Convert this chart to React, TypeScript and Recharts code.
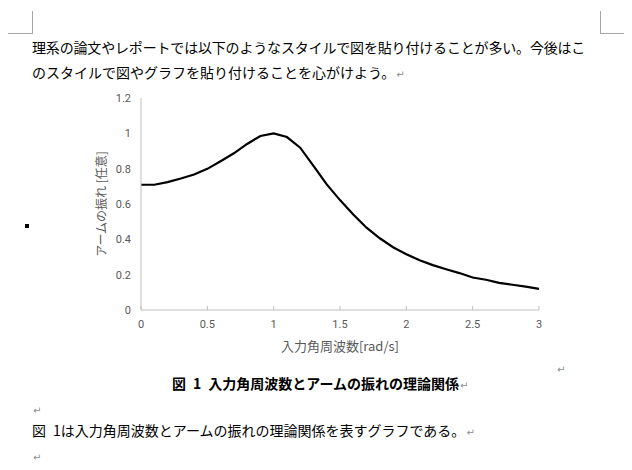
import { LineChart, Line, XAxis, YAxis } from 'recharts';

// angular frequency [rad/s]
const omega = [
  0, 0.1, 0.2, 0.3, 0.4, 0.5, 0.6, 0.7, 0.8, 0.9, 1.0,
  1.1, 1.2, 1.3, 1.4, 1.5, 1.6, 1.7, 1.8, 1.9, 2.0,
  2.1, 2.2, 2.3, 2.4, 2.5, 2.6, 2.7, 2.8, 2.9, 3.0,
];

// arm amplitude (arbitrary units)
const amplitude = [
  0.709, 0.709, 0.724, 0.744, 0.767, 0.799, 0.842, 0.887, 0.94, 0.985, 1.0,
  0.979, 0.919, 0.816, 0.711, 0.622, 0.541, 0.466, 0.406, 0.355, 0.316,
  0.282, 0.254, 0.231, 0.209, 0.184, 0.171, 0.154, 0.143, 0.132, 0.12,
];

const xTicks = [0, 0.5, 1, 1.5, 2, 2.5, 3];
const yTicks = [0, 0.2, 0.4, 0.6, 0.8, 1, 1.2];

const bodyLines = [
  '理系の論文やレポートでは以下のようなスタイルで図を貼り付けることが多い。今後はこ',
  'のスタイルで図やグラフを貼り付けることを心がけよう。',
];
const captionText = '図\u20021\u2002入力角周波数とアームの振れの理論関係';
const closingText = '図\u20021は入力角周波数とアームの振れの理論関係を表すグラフである。';
const xTitle = '入力角周波数[rad/s]';
const yTitle = 'アームの振れ [任意]';

const data = omega.map((w, i) => ({ w, amp: amplitude[i] }));

const jp = '"Noto Sans CJK JP", sans-serif';
const axisGrey = '#bfbfbf';
const labelGrey = '#595959';

// Word paragraph mark
const Mark = () => (
  <span style={{ fontSize: 10, color: '#8c8c8c', fontFamily: '"DejaVu Sans", sans-serif', fontWeight: 400, letterSpacing: 0, marginLeft: 1 }}>↵</span>
);

const textLine = (top: number, left: number, bold = false, spacing = 0) => ({
  position: 'absolute' as const,
  left,
  top,
  fontFamily: jp,
  fontSize: 14,
  lineHeight: '26px',
  letterSpacing: `${spacing}px`,
  fontWeight: bold ? 700 : 400,
  color: '#000',
  whiteSpace: 'nowrap' as const,
});

export default function App() {
  return (
    <div style={{ position: 'absolute', left: 0, top: 0, width: 632, height: 470, background: '#fff', overflow: 'hidden' }}>
      {/* page corner marks */}
      <div style={{ position: 'absolute', left: 8, top: 33, width: 24, height: 1, background: '#a6a6a6' }} />
      <div style={{ position: 'absolute', left: 32, top: 11, width: 1, height: 23, background: '#a6a6a6' }} />
      <div style={{ position: 'absolute', left: 600, top: 33, width: 24, height: 1, background: '#a6a6a6' }} />
      <div style={{ position: 'absolute', left: 600, top: 11, width: 1, height: 23, background: '#a6a6a6' }} />

      <div style={textLine(34, 32, false, -0.17)}>{bodyLines[0]}</div>
      <div style={textLine(59, 32)}>
        {bodyLines[1]}<Mark />
      </div>

      <div style={{ position: 'absolute', left: 25, top: 224, width: 4, height: 4, background: '#000' }} />

      <div style={{ position: 'absolute', left: 60, top: 88 }}>
        <LineChart width={500} height={270} data={data} margin={{ top: 10, right: 21, left: 37, bottom: 3 }}>
          <XAxis
            dataKey="w"
            type="number"
            domain={[0, 3]}
            ticks={xTicks}
            interval={0}
            tickSize={-4}
            tickMargin={14}
            height={45}
            stroke={axisGrey}
            tick={{ fill: labelGrey, fontSize: 11, fontFamily: 'Roboto, sans-serif' }}
            label={{ value: xTitle, position: 'insideBottom', offset: 4, fill: labelGrey, fontSize: 13, fontFamily: jp }}
          />
          <YAxis
            type="number"
            domain={[0, 1.2]}
            ticks={yTicks}
            interval={0}
            width={44}
            tickLine={false}
            tickSize={0}
            tickMargin={10}
            stroke={axisGrey}
            tick={{ fill: labelGrey, fontSize: 11, fontFamily: 'Roboto, sans-serif' }}
            label={{ value: yTitle, angle: -90, position: 'insideLeft', offset: 5, fill: labelGrey, fontSize: 12, fontFamily: jp, style: { textAnchor: 'middle' } }}
          />
          <Line type="linear" dataKey="amp" stroke="#000" strokeWidth={2.2} dot={false} isAnimationActive={false} />
        </LineChart>
      </div>

      <div style={textLine(354, 556)}><Mark /></div>
      <div style={textLine(370, 172, true)}>{captionText}<Mark /></div>

      <div style={textLine(395, 32)}><Mark /></div>
      <div style={textLine(417, 32)}>{closingText}<Mark /></div>
      <div style={textLine(442, 32)}><Mark /></div>
    </div>
  );
}
